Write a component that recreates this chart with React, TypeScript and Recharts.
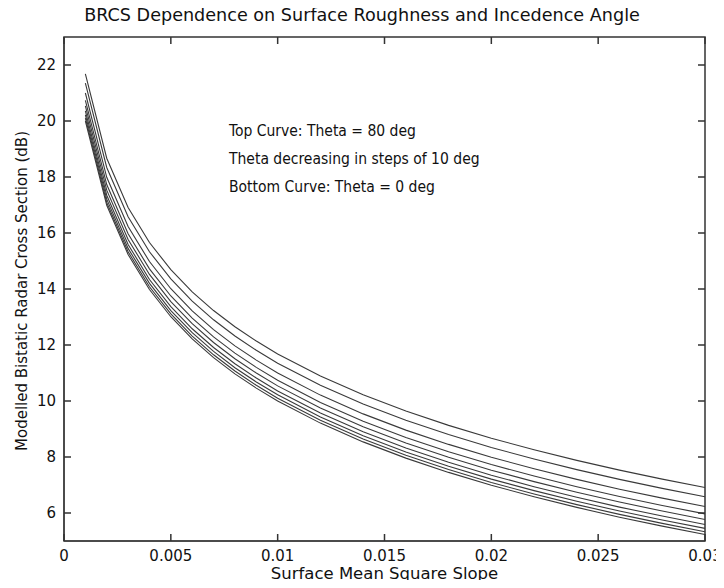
import React from "react";
import { LineChart, Line, XAxis, YAxis, ReferenceArea } from "recharts";

// surface mean square slope samples
const slopes = [
  0.001, 0.002, 0.003, 0.004, 0.005, 0.006, 0.007, 0.008, 0.009, 0.01, 0.012, 0.014, 0.016, 0.018, 0.02,
  0.022, 0.024, 0.026, 0.028, 0.03,
];

// BRCS (dB), theta = 0 .. 80 deg
const theta0 = [20.0, 16.99, 15.23, 13.98, 13.01, 12.22, 11.55, 10.97, 10.46, 10.0, 9.21, 8.54, 7.96, 7.45, 6.99, 6.58, 6.2, 5.85, 5.53, 5.23];
const theta10 = [20.1, 17.09, 15.33, 14.08, 13.11, 12.32, 11.65, 11.07, 10.56, 10.1, 9.31, 8.64, 8.06, 7.55, 7.09, 6.68, 6.3, 5.95, 5.63, 5.33];
const theta20 = [20.22, 17.21, 15.45, 14.2, 13.23, 12.44, 11.77, 11.19, 10.68, 10.22, 9.43, 8.76, 8.18, 7.67, 7.21, 6.8, 6.42, 6.07, 5.75, 5.45];
const theta30 = [20.36, 17.35, 15.59, 14.34, 13.37, 12.58, 11.91, 11.33, 10.82, 10.36, 9.57, 8.9, 8.32, 7.81, 7.35, 6.94, 6.56, 6.21, 5.89, 5.59];
const theta40 = [20.54, 17.53, 15.77, 14.52, 13.55, 12.76, 12.09, 11.51, 11.0, 10.54, 9.75, 9.08, 8.5, 7.99, 7.53, 7.12, 6.74, 6.39, 6.07, 5.77];
const theta50 = [20.74, 17.73, 15.97, 14.72, 13.75, 12.96, 12.29, 11.71, 11.2, 10.74, 9.95, 9.28, 8.7, 8.19, 7.73, 7.32, 6.94, 6.59, 6.27, 5.97];
const theta60 = [21.0, 17.99, 16.23, 14.98, 14.01, 13.22, 12.55, 11.97, 11.46, 11.0, 10.21, 9.54, 8.96, 8.45, 7.99, 7.58, 7.2, 6.85, 6.53, 6.23];
const theta70 = [21.35, 18.34, 16.58, 15.33, 14.36, 13.57, 12.9, 12.32, 11.81, 11.35, 10.56, 9.89, 9.31, 8.8, 8.34, 7.93, 7.55, 7.2, 6.88, 6.58];
const theta80 = [21.68, 18.67, 16.91, 15.66, 14.69, 13.9, 13.23, 12.65, 12.14, 11.68, 10.89, 10.22, 9.64, 9.13, 8.67, 8.26, 7.88, 7.53, 7.21, 6.91];

const xTicks = [0, 0.005, 0.01, 0.015, 0.02, 0.025, 0.03];
const yTicks = [6, 8, 10, 12, 14, 16, 18, 20, 22];

const series = [theta0, theta10, theta20, theta30, theta40, theta50, theta60, theta70, theta80];
const data = slopes.map((s, i) => {
  const row: Record<string, number> = { s };
  series.forEach((vals, k) => (row["t" + k * 10] = vals[i]));
  return row;
});

const W = 724;
const H = 588;
const TOP = 37;
const BOTTOM = 541;
const LEFT = 64;
const RIGHT = 705;
const FONT = "'DejaVu Sans', sans-serif";
const AXIS = "#333";

// labels, inward ticks, mirrored on the top / right edges
const BottomTick = (p: any) => (
  <g>
    <path d={`M${p.x},${BOTTOM}V${BOTTOM - 7}M${p.x},${TOP}V${TOP + 7}`} stroke={AXIS} strokeWidth={1.5} fill="none" />
    <text x={p.x} y={BOTTOM + 20} textAnchor="middle" fontSize={15} fill="#111" fontFamily={FONT}>
      {p.payload.value}
    </text>
  </g>
);
const LeftTick = (p: any) => (
  <g>
    <path d={`M${LEFT},${p.y}H${LEFT + 7}M${RIGHT},${p.y}H${RIGHT - 7}`} stroke={AXIS} strokeWidth={1.5} fill="none" />
    <text x={LEFT - 8} y={p.y + 5} textAnchor="end" fontSize={15} fill="#111" fontFamily={FONT}>
      {p.payload.value}
    </text>
  </g>
);

const txt: React.CSSProperties = { position: "absolute", fontFamily: FONT, color: "#111", whiteSpace: "nowrap" };

export default function App() {
  return (
    <div style={{ position: "relative", width: W, height: H, margin: -8 }}>
      <LineChart width={W} height={H} data={data} margin={{ top: TOP, right: W - RIGHT, bottom: 0, left: 0 }}>
        <XAxis
          dataKey="s"
          type="number"
          domain={[0, 0.03]}
          ticks={xTicks}
          height={H - BOTTOM}
          stroke={AXIS}
          tick={BottomTick}
          tickLine={false}
          interval={0}
        />
        <YAxis
          type="number"
          domain={[5, 23]}
          ticks={yTicks}
          width={LEFT}
          stroke={AXIS}
          tick={LeftTick}
          tickLine={false}
          interval={0}
        />
        <ReferenceArea
          x1={0.0}
          x2={0.03}
          y1={5}
          y2={23}
          fill="#ffffff"
          fillOpacity={0}
          stroke={AXIS}
          strokeWidth={1.5}
          ifOverflow="visible"
        />
        {series.map((_, k) => (
          <Line
            key={k}
            dataKey={"t" + k * 10}
            type="linear"
            stroke="#3a3a3a"
            strokeWidth={1.1}
            dot={false}
            isAnimationActive={false}
          />
        ))}
      </LineChart>
      <div style={{ ...txt, left: 0, width: W, top: 5, textAlign: "center", fontSize: 17.6 }}>
        BRCS Dependence on Surface Roughness and Incedence Angle
      </div>
      <div style={{ ...txt, left: LEFT, width: RIGHT - LEFT, top: 564, textAlign: "center", fontSize: 16.5 }}>
        Surface Mean Square Slope
      </div>
      <div
        style={{
          ...txt,
          left: 22,
          top: 291,
          fontSize: 15,
          transform: "translate(-50%, -50%) rotate(-90deg)",
        }}
      >
        Modelled Bistatic Radar Cross Section (dB)
      </div>
      <div
        style={{
          ...txt,
          left: 229,
          top: 117,
          fontSize: 15.5,
          lineHeight: "28px",
          fontFamily: "'DejaVu Sans Condensed', 'DejaVu Sans', sans-serif",
        }}
      >
        Top Curve: Theta = 80 deg
        <br />
        Theta decreasing in steps of 10 deg
        <br />
        Bottom Curve: Theta = 0 deg
      </div>
    </div>
  );
}
